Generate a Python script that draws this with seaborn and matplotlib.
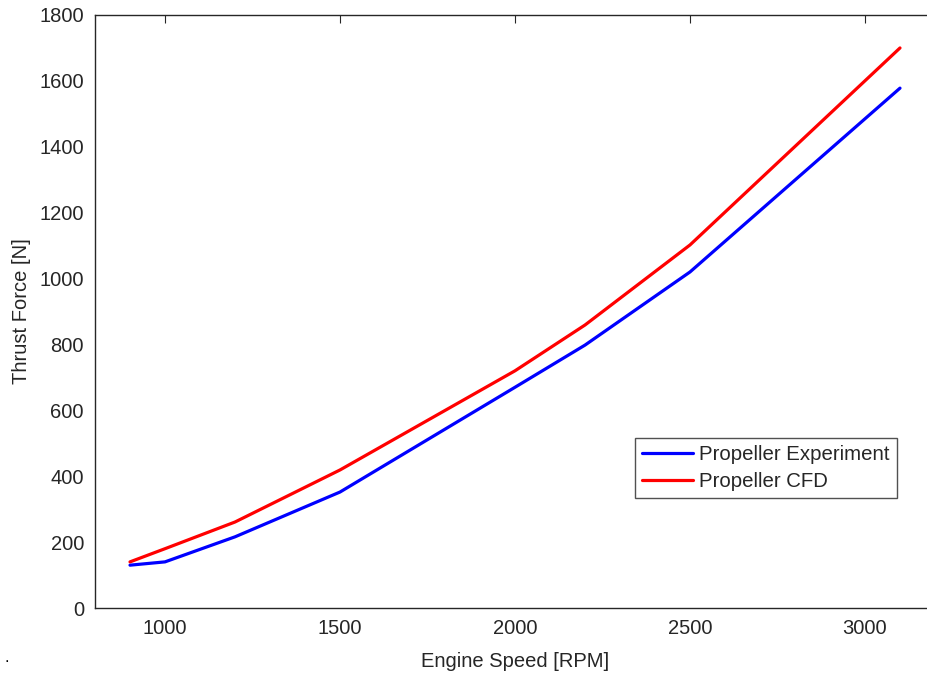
import pandas as pd
import seaborn as sns
import matplotlib.pyplot as plt

# Engine speed vs thrust
rpm = [900, 1000, 1200, 1500, 2000, 2200, 2500, 3100]
thrust_experiment = [130, 140, 216, 352, 670, 798, 1020, 1578]
thrust_cfd = [140, 180, 261, 419, 720, 859, 1102, 1700]
series_names = ['Propeller Experiment', 'Propeller CFD']
x_ticks = [1000, 1500, 2000, 2500, 3000]
y_ticks = list(range(0, 1801, 200))

df = pd.concat([
    pd.DataFrame({'rpm': rpm, 'thrust': thrust_experiment, 'series': series_names[0]}),
    pd.DataFrame({'rpm': rpm, 'thrust': thrust_cfd, 'series': series_names[1]}),
])

sns.set_style('white')
plt.rcParams['font.family'] = ['Liberation Sans', 'DejaVu Sans']
text_col = '#262626'

fig = plt.figure(figsize=(9.28, 6.77), dpi=100)
# axes run slightly past the right edge, as in the cropped original
ax = fig.add_axes([95 / 928, 69 / 677, 840 / 928, 593 / 677])

sns.lineplot(data=df, x='rpm', y='thrust', hue='series', ax=ax,
             palette={series_names[0]: '#0000ff', series_names[1]: '#ff0000'},
             linewidth=2.3, sort=False)

ax.set_xlim(800, 3200)
ax.set_ylim(0, 1800)
ax.set_xticks(x_ticks)
ax.set_yticks(y_ticks)
ax.tick_params(direction='in', length=6, width=0.8, color=text_col,
               labelsize=14.5, labelcolor=text_col, top=True, right=True, pad=8)
for s in ax.spines.values():
    s.set_color(text_col)
    s.set_linewidth(1.0)
ax.set_xlabel('Engine Speed [RPM]', fontsize=14.5, color=text_col, labelpad=10)
ax.set_ylabel('Thrust Force [N]', fontsize=14.5, color=text_col, labelpad=6)

leg = ax.legend(loc='lower left', bbox_to_anchor=(540 / 840, 110 / 593),
                fontsize=14.7, frameon=True, fancybox=False, handlelength=2.5,
                borderpad=0.35, labelspacing=0.4, handletextpad=0.3,
                borderaxespad=0)
leg.get_frame().set_edgecolor(text_col)
leg.get_frame().set_linewidth(1.0)
for t in leg.get_texts():
    t.set_color(text_col)

fig.text(5 / 928, 1 - 662 / 677, '.', fontsize=12, color='black')

fig.savefig('out.png', dpi=100)
